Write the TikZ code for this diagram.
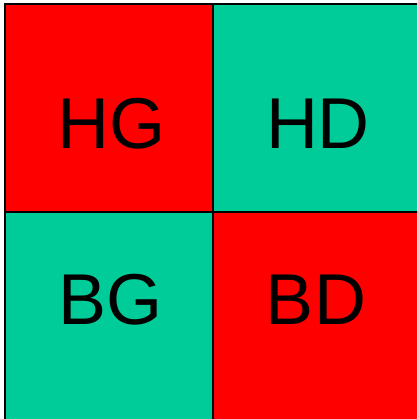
\documentclass[tikz,border=0pt]{standalone}
\usepackage{fontspec}
\setmainfont{Liberation Sans}
\usepackage{xcolor}
\usepackage{tikz}
\definecolor{quadteal}{RGB}{0,204,153}
\definecolor{quadred}{RGB}{255,0,0}

\begin{document}
\begin{tikzpicture}[x=1pt,y=-1pt,
    cell/.style={draw=black,line width=1.6pt},
    letters/.style={inner sep=0pt,font=\fontsize{72}{80}\selectfont}]
    \useasboundingbox (0,0) rectangle (417,419);
    \clip (0,0) rectangle (417,419);

    \filldraw[cell,fill=quadred]  (5,4)   rectangle (213,212);
    \filldraw[cell,fill=quadteal] (213,4) rectangle (430,212);
    \filldraw[cell,fill=quadteal] (5,212) rectangle (213,430);
    \filldraw[cell,fill=quadred]  (213,212) rectangle (430,430);

    \node[letters] (hg) at (111.5,123.5) {HG};
    \node[letters] (hd) at (318,123.5) {HD};
    \node[letters] (bg) at (110.5,299.5) {BG};
    \node[letters] (bd) at (316,299.5) {BD};
\end{tikzpicture}
\end{document}
